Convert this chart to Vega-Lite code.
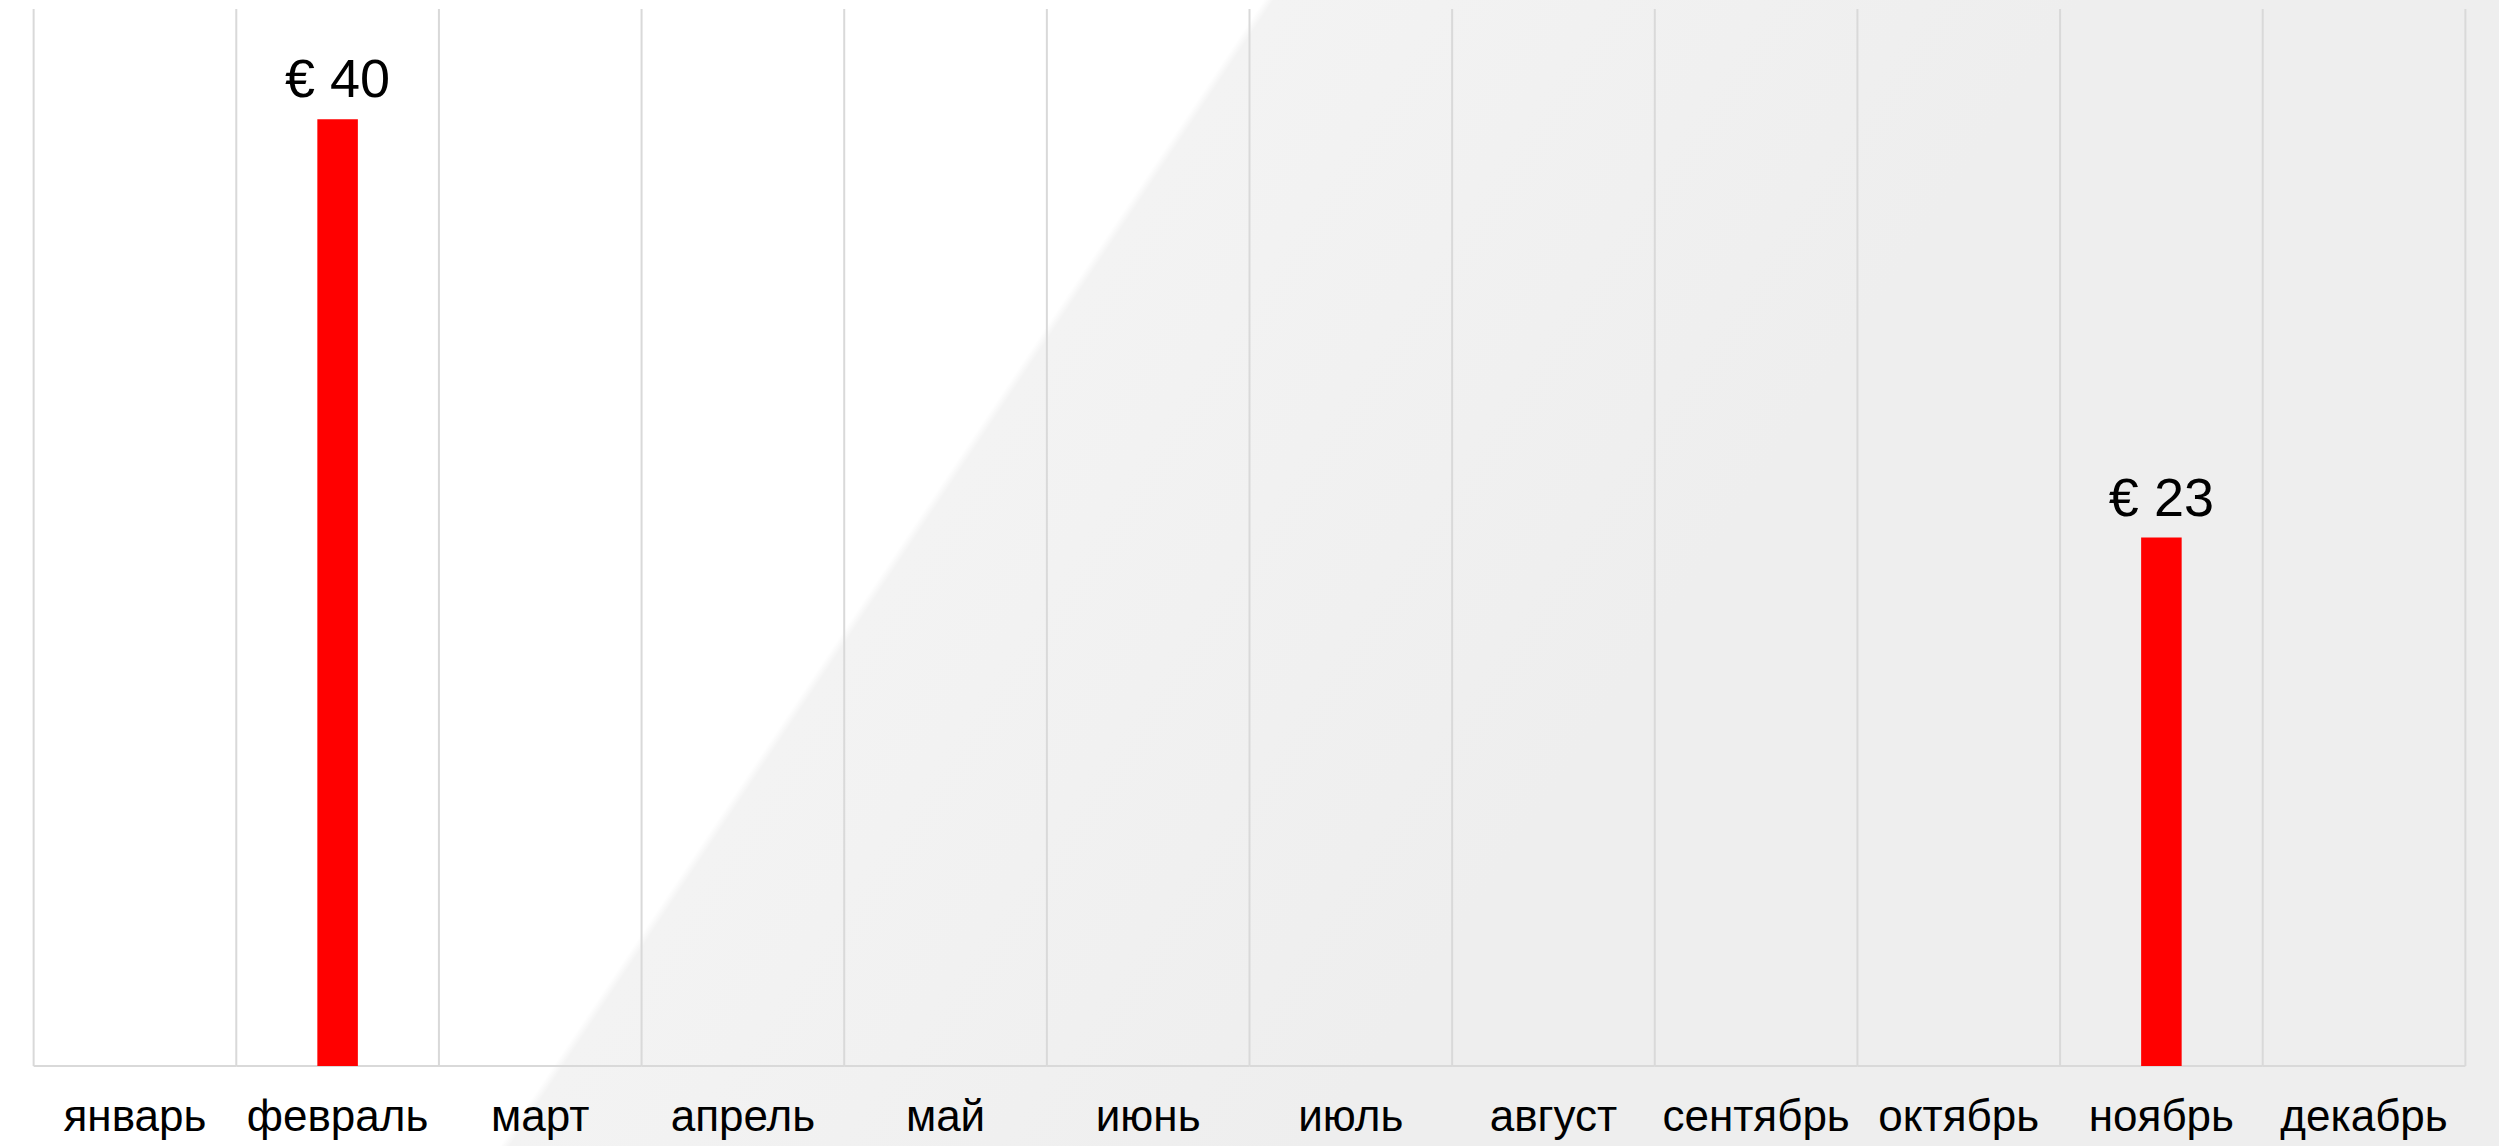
{
  "$schema": "https://vega.github.io/schema/vega-lite/v6.json",
  "autosize": "none",
  "width": 2499,
  "height": 1146,
  "padding": 0,
  "background": "#ffffff",
  "data": {
    "values": [
      {"month": "январь", "amount": null},
      {"month": "февраль", "amount": 40.3},
      {"month": "март", "amount": null},
      {"month": "апрель", "amount": null},
      {"month": "май", "amount": null},
      {"month": "июнь", "amount": null},
      {"month": "июль", "amount": null},
      {"month": "август", "amount": null},
      {"month": "сентябрь", "amount": null},
      {"month": "октябрь", "amount": null},
      {"month": "ноябрь", "amount": 22.5},
      {"month": "декабрь", "amount": null}
    ]
  },
  "layer": [
    {
      "mark": {"type": "rule", "color": "#d9d9d9", "strokeWidth": 2},
      "encoding": {
        "x": {
          "field": "month",
          "type": "nominal",
          "sort": null,
          "bandPosition": 0,
          "scale": {"paddingInner": 0, "paddingOuter": 0.166},
          "axis": {
            "title": null,
            "domain": false,
            "ticks": false,
            "tickSize": 0,
            "grid": false,
            "offset": -80,
            "labelPadding": 29,
            "labelAngle": 0,
            "labelLimit": 0,
            "labelFont": "Liberation Sans",
            "labelFontSize": 44,
            "labelColor": "#000000"
          }
        },
        "y": {"datum": 45, "type": "quantitative", "scale": {"domain": [-3.4, 45.38], "zero": false, "nice": false}, "axis": null},
        "y2": {"datum": 0}
      }
    },
    {
      "transform": [{"filter": "datum.month === 'декабрь'"}],
      "mark": {"type": "rule", "color": "#d9d9d9", "strokeWidth": 2},
      "encoding": {
        "x": {"field": "month", "type": "nominal", "sort": null, "bandPosition": 1},
        "y": {"datum": 45, "type": "quantitative"},
        "y2": {"datum": 0}
      }
    },
    {
      "mark": {"type": "rule", "color": "#d9d9d9", "strokeWidth": 2},
      "encoding": {
        "x": {"field": "month", "type": "nominal", "sort": null, "bandPosition": 0},
        "x2": {"field": "month", "bandPosition": 1},
        "y": {"datum": 0, "type": "quantitative"}
      }
    },
    {
      "mark": {"type": "bar", "color": "#ff0000", "width": {"band": 0.2}},
      "encoding": {
        "x": {"field": "month", "type": "nominal", "sort": null},
        "y": {"field": "amount", "type": "quantitative"}
      }
    },
    {
      "mark": {
        "type": "text",
        "baseline": "alphabetic",
        "dy": -22,
        "font": "Liberation Sans",
        "fontSize": 54,
        "color": "#000000"
      },
      "encoding": {
        "x": {"field": "month", "type": "nominal", "sort": null},
        "y": {"field": "amount", "type": "quantitative"},
        "text": {"field": "amount", "type": "quantitative", "format": "$.0f"}
      }
    }
  ],
  "config": {
    "locale": {
      "number": {
        "decimal": ",",
        "thousands": " ",
        "grouping": [3],
        "currency": ["€ ", ""]
      }
    },
    "view": {
      "stroke": null,
      "fill": {
        "gradient": "linear",
        "x1": 0.2001,
        "y1": 1,
        "x2": 0.5001,
        "y2": 1.0917,
        "stops": [
          {"offset": 0, "color": "#ffffff"},
          {"offset": 0.012, "color": "#f3f3f3"},
          {"offset": 1, "color": "#eeeeee"}
        ]
      }
    }
  }
}
